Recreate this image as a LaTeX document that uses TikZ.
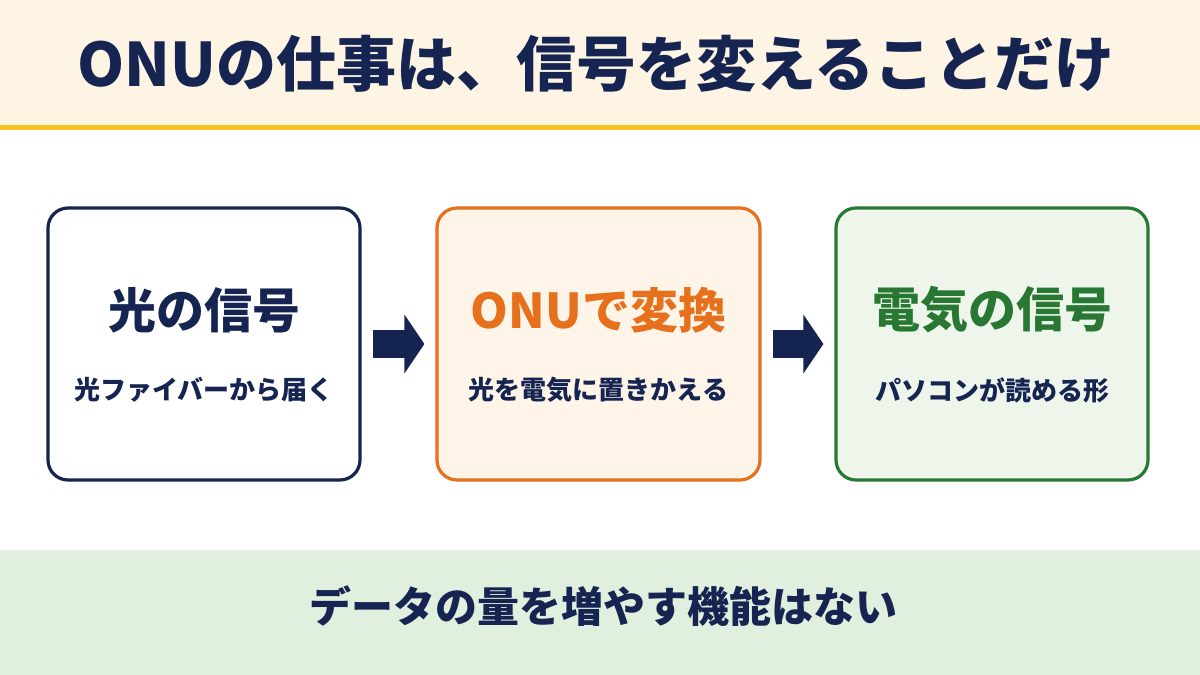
\documentclass[tikz,border=0pt]{standalone}
\usepackage{fontspec}
\setmainfont{Noto Sans CJK JP}
\usetikzlibrary{arrows.meta,positioning}
\definecolor{onuNavy}{RGB}{21,36,80}
\definecolor{onuOrange}{RGB}{230,112,28}
\definecolor{onuGreen}{RGB}{40,120,52}
\definecolor{onuCream}{RGB}{253,244,228}
\definecolor{onuYellow}{RGB}{246,196,28}
\definecolor{onuMint}{RGB}{225,240,222}
\definecolor{onuPeach}{RGB}{254,245,232}
\definecolor{onuLeaf}{RGB}{238,246,236}

\begin{document}
\begin{tikzpicture}[x=0.5pt,y=-0.5pt,
  stepbox/.style={draw,line width=1.6pt,rounded corners=10pt,
    minimum width=156pt,minimum height=136pt},
  boxhead/.style={font=\bfseries\fontsize{24}{28}\selectfont},
  boxnote/.style={onuNavy,font=\bfseries\fontsize{13}{16}\selectfont},
  bigarrow/.style={onuNavy,line width=14pt,
    -{Triangle[length=10pt,width=29pt]},shorten <=5.5pt,shorten >=5.5pt}]
  \useasboundingbox (0,0) rectangle (1200,675);
  \fill[white] (0,0) rectangle (1200,675);
  % title band
  \fill[onuCream] (0,0) rectangle (1200,125);
  \fill[onuYellow] (0,125) rectangle (1200,130);
  \node[onuNavy,font=\bfseries\fontsize{30}{36}\selectfont] (title) at (596,64)
    {ONUの仕事は、信号を変えることだけ};
  % three steps
  \node[stepbox,draw=onuNavy,fill=white] (light) at (204,344) {};
  \node[stepbox,draw=onuOrange,fill=onuPeach,minimum width=161.5pt,
    right=36.9pt of light] (onu) {};
  \node[stepbox,draw=onuGreen,fill=onuLeaf,right=36.4pt of onu] (elec) {};
  \node[boxhead,onuNavy] (lightT) at ([yshift=17pt]light.center) {光の信号};
  \node[boxnote] (lightN) at ([yshift=-23pt]light.center) {光ファイバーから届く};
  \node[boxhead,onuOrange] (onuT) at ([yshift=17pt]onu.center) {ONUで変換};
  \node[boxnote] (onuN) at ([yshift=-23pt]onu.center) {光を電気に置きかえる};
  \node[boxhead,onuGreen] (elecT) at ([yshift=17pt]elec.center) {電気の信号};
  \node[boxnote] (elecN) at ([yshift=-23pt]elec.center) {パソコンが読める形};
  \draw[bigarrow] (light.east) -- (onu.west);
  \draw[bigarrow] (onu.east) -- (elec.west);
  % bottom note
  \fill[onuMint] (0,550) rectangle (1200,675);
  \node[onuNavy,font=\bfseries\fontsize{21}{25}\selectfont] (note) at (603,606)
    {データの量を増やす機能はない};
\end{tikzpicture}
\end{document}
